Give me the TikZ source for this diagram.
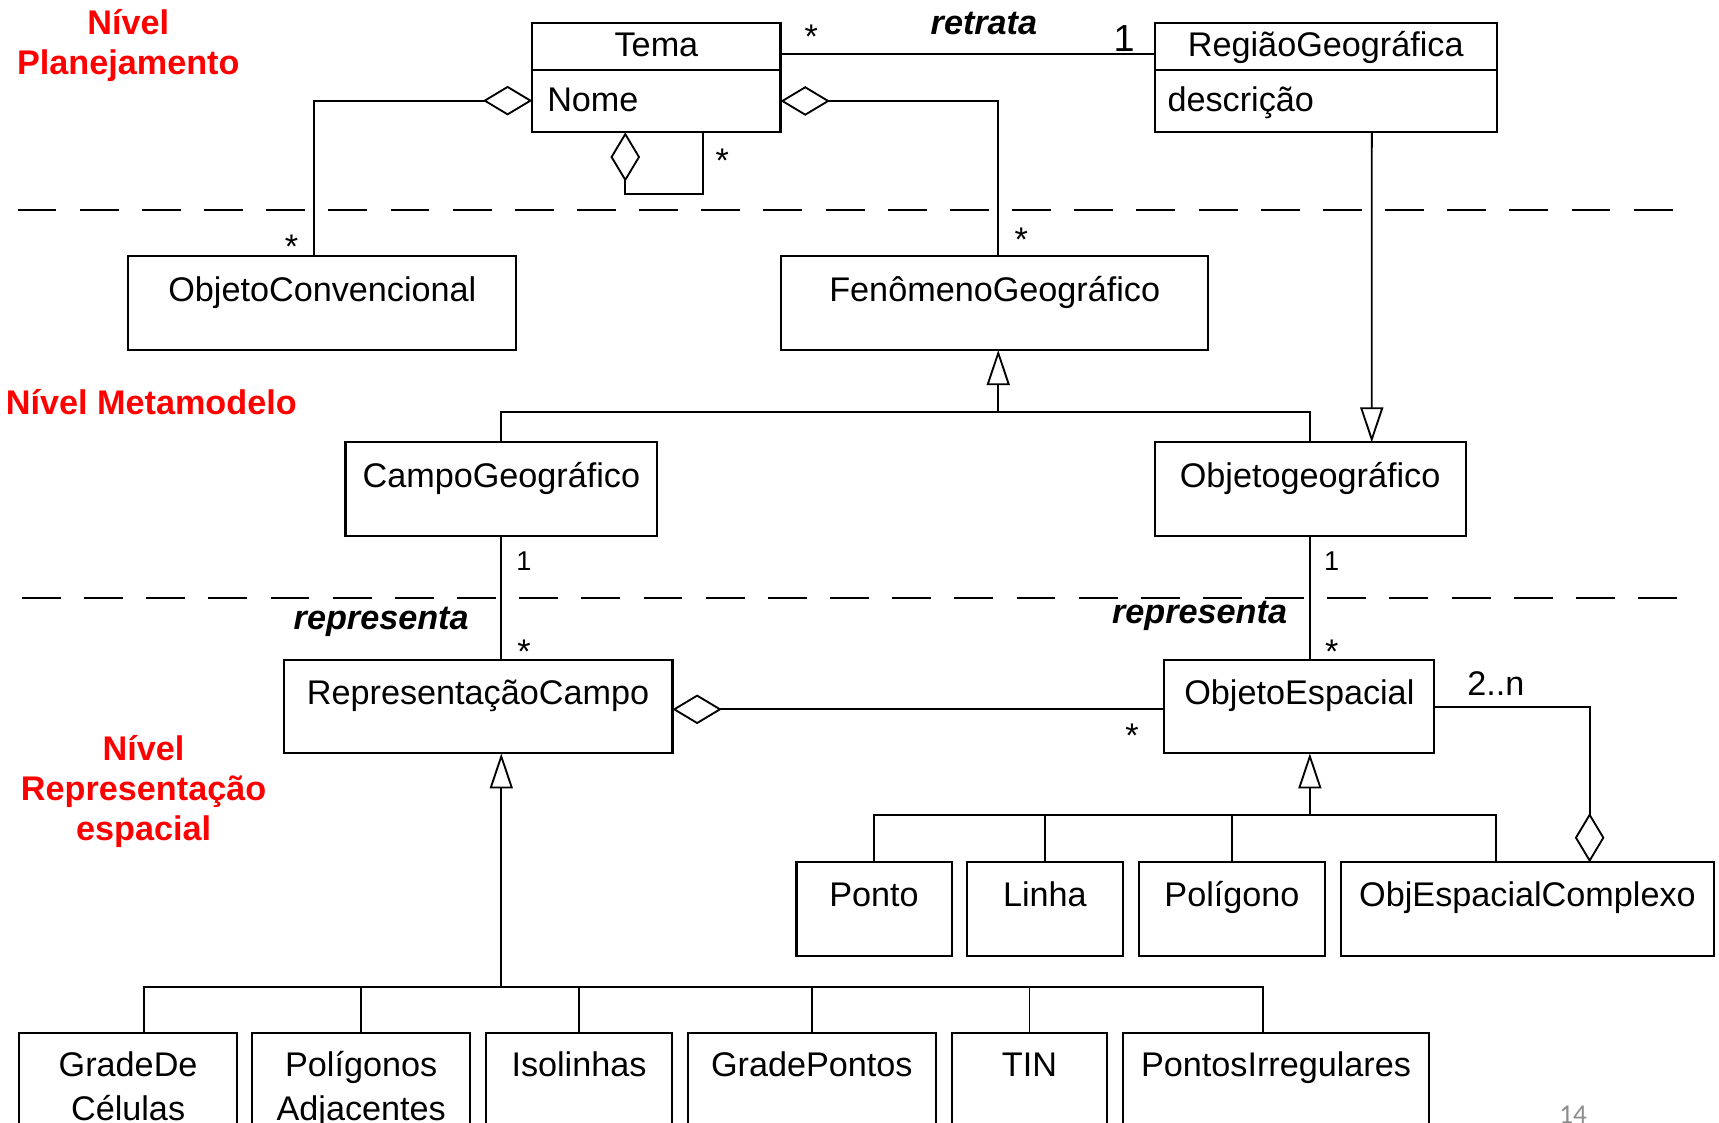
\documentclass[tikz,border=0pt]{standalone}
\usepackage{fontspec}
\setmainfont{Liberation Sans}
\newfontfamily\pagenumfont{Carlito}
\usetikzlibrary{arrows.meta,calc}
\definecolor{pagegray}{RGB}{140,140,140}

\tikzset{
  cls/.style={draw, line width=1pt, rectangle, inner sep=0pt, outer sep=0pt, anchor=north west},
  sz/.style 2 args={minimum width=#1*0.5pt, minimum height=#2*0.5pt},
  txt/.style={inner sep=0pt, anchor=base, font=\fontsize{15.6}{18.7}\selectfont},
  txtl/.style={txt, anchor=base west},
  small/.style={inner sep=0pt, anchor=base, font=\fontsize{12.4}{14.9}\selectfont},
  large/.style={inner sep=0pt, anchor=base, font=\fontsize{17.2}{20.6}\selectfont},
  role/.style={inner sep=0pt, anchor=base, font=\fontsize{15.6}{18.7}\selectfont\bfseries\itshape},
  level/.style={inner sep=0pt, anchor=base, text=red, font=\fontsize{15.6}{18.7}\selectfont\bfseries},
  conn/.style={line width=0.85pt},
  agg/.style={conn, {Diamond[open, length=22.5pt, width=13.5pt]}-},
  gen/.style={conn, -{Triangle[open, length=16pt, width=10.5pt]}},
  sep/.style={line width=1pt, dash pattern=on 17.75pt off 10.6pt},
  divider/.style={line width=1pt},
}

\begin{document}
\begin{tikzpicture}[x=0.5pt, y=-0.5pt]
\clip (0,0) rectangle (1568,1024);
\fill[white] (0,0) rectangle (1568,1024);

% level separators
\draw[sep] (16,191.6) -- (1526.5,191.6);
\draw[sep] (20,545.5) -- (1530,545.5);

% level titles
\node[level] (lvP1) at (117,31.3) {Nível};
\node[level] (lvP2) at (117,68.4) {Planejamento};
\node[level, anchor=base west] (lvM) at (5,378.5) {Nível Metamodelo};
\node[level] (lvR1) at (131,693.8) {Nível};
\node[level] (lvR2) at (131,730.3) {Representação};
\node[level] (lvR3) at (131,766.8) {espacial};

% planning level classes
\node[cls, sz={226.5}{99.4}] (tema) at (485.5,21.3) {};
\draw[divider] ([yshift=-21.3pt]tema.north west) -- ([yshift=-21.3pt]tema.north east);
\node[txt] (temaT) at (598.75,51.7) {Tema};
\node[txtl] (temaA) at (498.8,101.3) {Nome};

\node[cls, sz={312.2}{99.4}] (regiao) at (1053.2,21.3) {};
\draw[divider] ([yshift=-21.3pt]regiao.north west) -- ([yshift=-21.3pt]regiao.north east);
\node[txt] (regiaoT) at (1209.3,51.7) {RegiãoGeográfica};
\node[txtl] (regiaoA) at (1064.6,101.3) {descrição};

% metamodel level classes
\node[cls, sz={353.8}{85.8}] (oc) at (117.1,233.5) {};
\node[txt] (ocT) at (294,275) {ObjetoConvencional};
\node[cls, sz={389.7}{85.8}] (fen) at (712.5,233.5) {};
\node[txt] (fenT) at (907.35,275) {FenômenoGeográfico};
\node[cls, sz={284.2}{85.5}] (campo) at (315.2,403.5) {};
\node[txt] (campoT) at (457.3,444.8) {CampoGeográfico};
\node[cls, sz={283.7}{85.5}] (objgeo) at (1053.2,403.5) {};
\node[txt] (objgeoT) at (1195,444.8) {Objetogeográfico};

% representation level classes
\node[cls, sz={354.7}{85.2}] (rep) at (258.7,602) {};
\node[txt] (repT) at (436.05,642.5) {RepresentaçãoCampo};
\node[cls, sz={246.2}{85.2}] (objesp) at (1062.1,602) {};
\node[txt] (objespT) at (1185.2,642.5) {ObjetoEspacial};

\node[cls, sz={141.5}{85.1}] (ponto) at (726.5,786.6) {};
\node[txt] (pontoT) at (797.25,826.4) {Ponto};
\node[cls, sz={142.2}{85.1}] (linha) at (882,786.6) {};
\node[txt] (linhaT) at (953.1,826.4) {Linha};
\node[cls, sz={170.1}{85.1}] (polig) at (1038.7,786.6) {};
\node[txt] (poligT) at (1123.75,826.4) {Polígono};
\node[cls, sz={340.2}{85.1}] (cx) at (1223.2,786.6) {};
\node[txt] (cxT) at (1393.3,826.4) {ObjEspacialComplexo};

\node[cls, sz={198.7}{85}] (gdc) at (17.5,942.6) {};
\node[txt] (gdcT1) at (116.85,982) {GradeDe};
\node[txt] (gdcT2) at (116.85,1021.7) {Células};
\node[cls, sz={198.6}{85}] (padj) at (230.2,942.6) {};
\node[txt] (padjT1) at (329.5,982) {Polígonos};
\node[txt] (padjT2) at (329.5,1021.7) {Adjacentes};
\node[cls, sz={169.7}{85}] (iso) at (443.3,942.6) {};
\node[txt] (isoT) at (528.15,982) {Isolinhas};
\node[cls, sz={226}{85}] (gp) at (627.5,942.6) {};
\node[txt] (gpT) at (740.5,982) {GradePontos};
\node[cls, sz={142.1}{85}] (tin) at (868,942.6) {};
\node[txt] (tinT) at (939.05,982) {TIN};
\node[cls, sz={278.7}{85}] (pirr) at (1024.6,942.6) {};
\node[txt] (pirrT) at (1163.95,982) {PontosIrregulares};

% associations
\draw[conn] ([yshift=-14pt]tema.north east) -- ([yshift=-14pt]regiao.north west);
\node[role] (retrata) at (897.5,31.9) {retrata};
\node[txt] (m1) at (740,44.1) {*};
\node[large] (m2) at (1025.3,47.1) {1};

\draw[agg] ([yshift=-35.25pt]tema.north west) -| ([xshift=-3.65pt]oc.north);
\node[txt] (m3) at (266,236.2) {*};
\draw[agg] ([yshift=-35.4pt]tema.north east) -| ([xshift=1.6pt]fen.north);
\node[txt] (m4) at (931.5,229) {*};
\draw[agg] ([xshift=-14.2pt]tema.south) -- ++(0,-28.15pt) -| ([xshift=21.4pt]tema.south);
\node[txt] (m5) at (658.8,156.9) {*};

\draw[conn] (campo.south) -- (campo.south |- rep.north);
\node[small] (m6) at (478,520) {1};
\node[txt] (m7) at (478,605.2) {*};
\node[role] (rep1) at (347.7,574) {representa};

\draw[conn] (objgeo.south) -- (objgeo.south |- objesp.north);
\node[small] (m8) at (1214.7,520) {1};
\node[txt] (m9) at (1214.7,605.2) {*};
\node[role] (rep2) at (1094.2,568.6) {representa};

\draw[agg] ([yshift=-1.2pt]rep.east) -- ([yshift=-1.2pt]objesp.west);
\node[txt] (m10) at (1032.5,682) {*};
\draw[agg] ([xshift=28.35pt]cx.north) |- (objesp.east);
\node[txt] (m11) at (1364.4,634) {2..n};

% generalizations
\draw[gen] ([xshift=21pt]regiao.south) -- ([xshift=28.1pt]objgeo.north);

\coordinate (fj) at ($(fen.south)+(1.6pt,-28.1pt)$);
\draw[gen] (fj) -- ([xshift=1.6pt]fen.south);
\draw[conn] (campo.north) |- (fj) -| (objgeo.north);

\coordinate (oj) at ($(objesp.south)+(4.8pt,-28.1pt)$);
\draw[gen] (oj) -- ([xshift=4.8pt]objesp.south);
\draw[conn] (ponto.north) |- (oj) -| ([xshift=-14.2pt]cx.north);
\draw[conn] (linha.north) -- (linha.north |- oj);
\draw[conn] (polig.north) -- (polig.north |- oj);

\coordinate (rj) at ($(rep.south)+(10.6pt,-106.4pt)$);
\draw[gen] (rj) -- ([xshift=10.6pt]rep.south);
\draw[conn] ([xshift=7.1pt]gdc.north) |- (rj) -| ([xshift=-5.9pt]pirr.north);
\foreach \n in {padj,iso,gp,tin} \draw[conn] (\n.north) -- (\n.north |- rj);

% slide number
\node[inner sep=0pt, anchor=base, text=pagegray, font=\pagenumfont\fontsize{12.4}{15}\selectfont] (pg) at (1434.9,1025) {14};
\end{tikzpicture}
\end{document}
